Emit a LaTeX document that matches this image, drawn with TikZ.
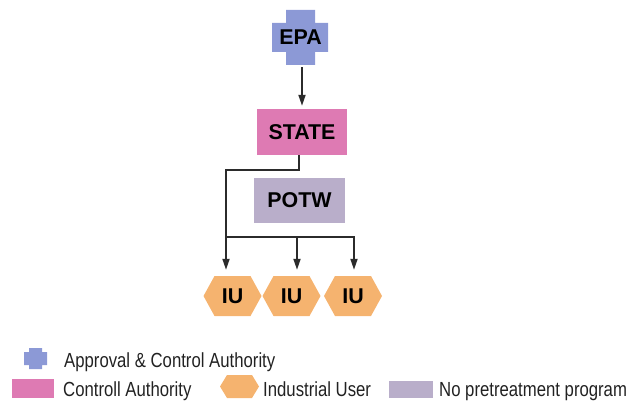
\documentclass[tikz,border=0pt]{standalone}
\usepackage{fontspec}
\setmainfont{Liberation Sans}
\newfontfamily\legendfont[FakeStretch=0.82]{Liberation Sans}
\usetikzlibrary{arrows.meta,backgrounds}
\definecolor{epablue}{HTML}{8C99D6}
\definecolor{statepink}{HTML}{DE7AB3}
\definecolor{potwlilac}{HTML}{B9AECA}
\definecolor{iuorange}{HTML}{F5B36F}
\definecolor{linegray}{HTML}{2B2B2B}
\definecolor{legendgray}{HTML}{222222}
\begin{document}
\begin{tikzpicture}[x=1pt,y=-1pt,
  conn/.style={draw=linegray, line width=1.8pt},
  arr/.style={conn, -{Triangle[length=11pt,width=7pt]}, shorten >=6pt},
  boxlabel/.style={font=\fontsize{21.4}{24}\selectfont\bfseries, inner sep=0pt, text=black},
  legendtext/.style={font=\legendfont\fontsize{20.4}{24}\selectfont, inner sep=0pt, text=legendgray, anchor=base west},
  swatch/.style={inner sep=0pt, draw=none}
]
\useasboundingbox (0,0) rectangle (631,403);

% main nodes
\node[boxlabel, minimum height=55pt] (epa) at (300.5,37.5) {EPA};
\node[boxlabel, fill=statepink, minimum width=90pt, minimum height=46pt] (state) at (302,132) {STATE};
\node[boxlabel, fill=potwlilac, minimum width=91pt, minimum height=45pt] (potw) at (299.5,200.5) {POTW};
\node[boxlabel, minimum width=58pt, minimum height=40pt] (iu1) at (232.5,296) {IU};
\node[boxlabel, minimum width=58pt, minimum height=40pt] (iu2) at (291.5,296) {IU};
\node[boxlabel, minimum width=58pt, minimum height=40pt] (iu3) at (353,296) {IU};

\begin{scope}[on background layer]
  \fill[epablue, shift={(epa)}] (-28.5,-14.5) rectangle (27.5,14.5) (-14.5,-27.5) rectangle (14.5,27.5);
  \foreach \n in {iu1,iu2,iu3}{
    \fill[iuorange, shift={(\n)}] (-29,0) -- (-18,-20) -- (18,-20) -- (29,0) -- (18,20) -- (-18,20) -- cycle;
  }
\end{scope}

% connectors
\coordinate (j1) at (226,170);
\coordinate (j2) at (226,237);
\coordinate (d2) at (297,237);
\coordinate (d3) at (354,237);
\draw[arr, shorten >=3pt, shorten <=2pt] (state.north |- epa.south) -- (state.north);
\draw[arr] ([xshift=-3pt]state.south) |- (j1) -- (j1 |- iu1.north);
\draw[arr] (j2) -| (d3 |- iu3.north);
\draw[arr] (d2) -- (d2 |- iu2.north);

% legend
\node[swatch, minimum width=23pt, minimum height=21pt] (lg1) at (35.5,358.5) {};
\fill[epablue, shift={(lg1)}] (-11.5,-6.5) rectangle (11.5,6.5) (-6.5,-10.5) rectangle (6.5,10.5);
\node[legendtext] (lt1) at (64,367) {Approval \& Control Authority};

\node[swatch, fill=statepink, minimum width=42pt, minimum height=19pt] (lg2) at (33,388.5) {};
\node[legendtext] (lt2) at (63,396) {Controll Authority};

\node[swatch, minimum width=39pt, minimum height=23pt] (lg3) at (239.5,386.5) {};
\fill[iuorange, shift={(lg3)}] (-19.5,0) -- (-12.5,-11.5) -- (12.5,-11.5) -- (19.5,0) -- (12.5,11.5) -- (-12.5,11.5) -- cycle;
\node[legendtext] (lt3) at (263,396) {Industrial User};

\node[swatch, fill=potwlilac, minimum width=44pt, minimum height=17pt] (lg4) at (411,389.5) {};
\node[legendtext] (lt4) at (439,396) {No pretreatment program};
\end{tikzpicture}
\end{document}
